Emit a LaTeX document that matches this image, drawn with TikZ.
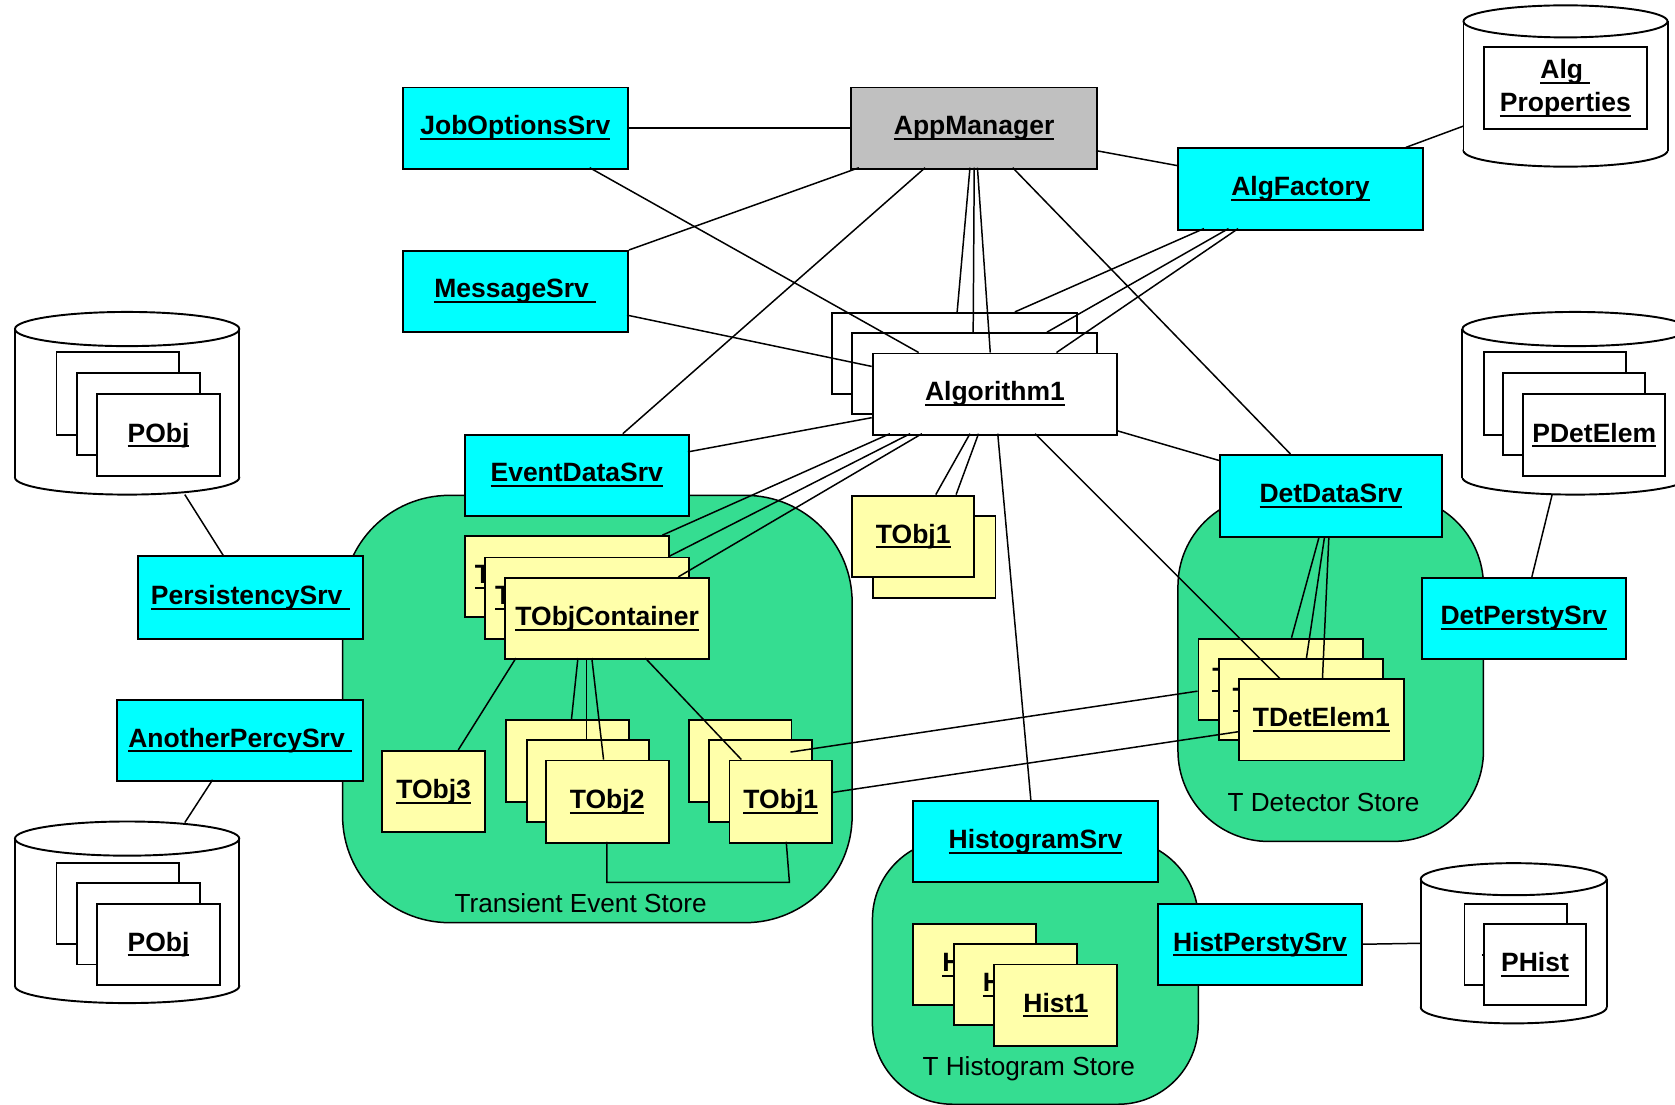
\documentclass[tikz,border=0pt]{standalone}
\usepackage{fontspec}
\setmainfont{Liberation Sans}
\usetikzlibrary{calc}
\definecolor{storegreen}{RGB}{53,221,145}
\definecolor{objyellow}{RGB}{255,255,170}
\definecolor{svccyan}{RGB}{0,255,255}
\definecolor{mgrgray}{RGB}{192,192,192}
\newcommand\myul[1]{\setbox0\hbox{#1}\rlap{\rule[-0.2em]{\wd0}{0.075em}}\box0}
\newcommand\mycyl[5]{%
  \filldraw[cylline] ({(#1+#3)/2},{#4-#5}) ellipse [x radius={(#3-#1)/2}, y radius={#5}];
  \fill[white] (#1,{#2+#5}) rectangle (#3,{#4-#5});
  \draw[cylline] (#1,{#2+#5}) -- (#1,{#4-#5});
  \draw[cylline] (#3,{#2+#5}) -- (#3,{#4-#5});
  \filldraw[cylline] ({(#1+#3)/2},{#2+#5}) ellipse [x radius={(#3-#1)/2}, y radius={#5}];
}
\tikzset{
  bx/.style={draw, line width=1.8pt, inner sep=0pt, anchor=north west,
    font=\fontsize{24.8}{26}\selectfont\bfseries, align=center},
  svc/.style={bx, fill=svccyan},
  mgr/.style={bx, fill=mgrgray},
  wbx/.style={bx, fill=white},
  ybx/.style={bx, fill=objyellow},
  store/.style={draw, line width=1.4pt, fill=storegreen, anchor=north west, inner sep=0pt},
  storelabel/.style={anchor=base, inner sep=0pt, font=\fontsize{24.5}{26}\selectfont},
  cylline/.style={line width=1.8pt, fill=white, draw=black},
  cylarea/.style={anchor=north west, inner sep=0pt},
  conn/.style={line width=1.4pt},
}
\begin{document}
\begin{tikzpicture}[x=1pt,y=-1pt]
\useasboundingbox (0,0) rectangle (1568,1034.4);
\clip (0,0) rectangle (1568,1034.4);

% stores
\node[store, rounded corners=100pt, minimum width=477pt, minimum height=400pt] (tes) at (320,463) {};
\node[store, rounded corners=85pt, minimum width=286pt, minimum height=324pt] (tds) at (1102,463) {};
\node[store, rounded corners=75pt, minimum width=305pt, minimum height=248pt] (ths) at (816,785) {};
\node[storelabel] (tesl) at (543.5,854) {Transient Event Store};
\node[storelabel] (tdsl) at (1239,760) {T Detector Store};
\node[storelabel] (thsl) at (963,1007) {T Histogram Store};

% cylinders
\mycyl{14}{292}{224}{463}{16}
\mycyl{14}{769}{224}{939}{16}
\mycyl{1369}{292}{1580}{463}{16}
\mycyl{1330}{808}{1504}{958}{15}
\mycyl{1370}{5}{1561}{156}{15}
\node[cylarea, minimum width=210pt, minimum height=171pt] (cyl1) at (14,292) {};
\node[cylarea, minimum width=210pt, minimum height=170pt] (cyl2) at (14,769) {};
\node[cylarea, minimum width=211pt, minimum height=171pt] (cyl3) at (1369,292) {};
\node[cylarea, minimum width=174pt, minimum height=150pt] (cyl4) at (1330,808) {};
\node[cylarea, minimum width=191pt, minimum height=151pt] (cyl5) at (1370,5) {};

% persistent objects
\node[wbx, minimum width=115pt, minimum height=77pt] (poa) at (52,329) {};
\node[wbx, minimum width=115pt, minimum height=77pt] (pob) at (71,348) {};
\node[wbx, minimum width=115pt, minimum height=77pt] (poc) at (90,368) {\myul{PObj}};
\node[wbx, minimum width=115pt, minimum height=76pt] (pla) at (52,807) {};
\node[wbx, minimum width=115pt, minimum height=76pt] (plb) at (71,826) {};
\node[wbx, minimum width=115pt, minimum height=76pt] (plc) at (90,845) {\myul{PObj}};
\node[wbx, minimum width=133pt, minimum height=77pt] (pda) at (1388,329) {};
\node[wbx, minimum width=133pt, minimum height=77pt] (pdb) at (1406,348) {};
\node[wbx, minimum width=133pt, minimum height=77pt] (pdc) at (1425,368) {\myul{PDetElem}};
\node[wbx, minimum width=96pt, minimum height=76pt] (pha) at (1370,845) {\myul{PHist}};
\node[wbx, minimum width=96pt, minimum height=76pt] (phb) at (1388,864) {\myul{PHist}};
\node[wbx, minimum width=153pt, minimum height=77pt, font=\fontsize{24.8}{31}\selectfont\bfseries] (apr) at (1388,43) {\myul{Alg\ }\\\myul{Properties}};

% services
\node[svc, minimum width=211pt, minimum height=76pt] (jos) at (376,81) {\myul{JobOptionsSrv}};
\node[svc, minimum width=211pt, minimum height=76pt] (msg) at (376,234) {\myul{MessageSrv\ }};
\node[mgr, minimum width=230pt, minimum height=76pt] (app) at (796,81) {\myul{AppManager}};
\node[svc, minimum width=229pt, minimum height=76pt] (af) at (1102,138) {\myul{AlgFactory}};
\node[svc, minimum width=210pt, minimum height=76pt] (eds) at (434,406) {\myul{EventDataSrv}};
\node[svc, minimum width=211pt, minimum height=77pt] (ps) at (128,520) {\myul{PersistencySrv\ }};
\node[svc, minimum width=230pt, minimum height=76pt] (aps) at (109,654) {\myul{AnotherPercySrv\ }};
\node[svc, minimum width=208pt, minimum height=77pt] (dds) at (1141,425) {\myul{DetDataSrv}};
\node[svc, minimum width=191pt, minimum height=76pt] (dps) at (1330,540) {\myul{DetPerstySrv}};
\node[svc, minimum width=229pt, minimum height=76pt] (hs) at (854,749) {\myul{HistogramSrv}};
\node[svc, minimum width=191pt, minimum height=76pt] (hps) at (1083,845) {\myul{HistPerstySrv}};

% algorithms
\node[wbx, minimum width=229pt, minimum height=76pt] (alga) at (778,292) {};
\node[wbx, minimum width=229pt, minimum height=76pt] (algb) at (797,311) {};
\node[wbx, minimum width=229pt, minimum height=76pt] (algc) at (816,330) {\myul{Algorithm1}};

% transient objects
\node[ybx, minimum width=115pt, minimum height=77pt] (tobb) at (816,482) {};
\node[ybx, minimum width=114pt, minimum height=76pt] (tob) at (797,463) {\myul{TObj1}};
\node[ybx, minimum width=191pt, minimum height=76pt] (tca) at (434,501) {\myul{TObjContainer}};
\node[ybx, minimum width=191pt, minimum height=76pt] (tcb) at (453,521) {\myul{TObjContainer}};
\node[ybx, minimum width=191pt, minimum height=76pt] (tcc) at (472,540) {\myul{TObjContainer}};
\node[ybx, minimum width=96pt, minimum height=76pt] (to3) at (357,702) {\myul{TObj3}};
\node[ybx, minimum width=115pt, minimum height=77pt] (t2a) at (473,673) {};
\node[ybx, minimum width=115pt, minimum height=77pt] (t2b) at (492,692) {};
\node[ybx, minimum width=115pt, minimum height=77pt] (t2c) at (510,711) {\myul{TObj2}};
\node[ybx, minimum width=96pt, minimum height=77pt] (t1a) at (644,673) {};
\node[ybx, minimum width=96pt, minimum height=77pt] (t1b) at (663,692) {};
\node[ybx, minimum width=96pt, minimum height=77pt] (t1c) at (682,711) {\myul{TObj1}};
\node[ybx, minimum width=154pt, minimum height=76pt] (tda) at (1121,597) {\myul{TDetElem1}};
\node[ybx, minimum width=154pt, minimum height=76pt] (tdb) at (1140,616) {\myul{TDetElem1}};
\node[ybx, minimum width=154pt, minimum height=76pt] (tdc) at (1159,635) {\myul{TDetElem1}};
\node[ybx, minimum width=115pt, minimum height=76pt] (ha) at (854,864) {\myul{Hist1}};
\node[ybx, minimum width=115pt, minimum height=76pt] (hb) at (892,883) {\myul{Hist1}};
\node[ybx, minimum width=115pt, minimum height=76pt] (hc) at (930,902) {\myul{Hist1}};

% connectors
\begin{scope}[conn]
\draw (jos.east) -- (app.west);
\draw ($(jos.north west)+(176,76)$) -- ($(algc.north west)+(44,0)$);
\draw ($(app.north west)+(8,76)$) -- (msg.north east);
\draw ($(app.north west)+(70,76)$) -- ($(eds.north west)+(149,0)$);
\draw ($(app.north west)+(112,76)$) -- ($(alga.north west)+(118,0)$);
\draw ($(app.north west)+(116,76)$) -- ($(algb.north west)+(114,0)$);
\draw ($(app.north west)+(119,76)$) -- ($(algc.north west)+(111,0)$);
\draw ($(app.north west)+(152,76)$) -- ($(dds.north west)+(67,0)$);
\draw ($(app.north west)+(230,60)$) -- ($(af.north west)+(0,17)$);
\draw ($(af.north west)+(25,76)$) -- ($(alga.north west)+(172,0)$);
\draw ($(af.north west)+(48,76)$) -- ($(algb.north west)+(183,0)$);
\draw ($(af.north west)+(57,76)$) -- ($(algc.north west)+(173,0)$);
\draw ($(af.north west)+(214,0)$) -- ($(cyl5.north west)+(0,113)$);
\draw ($(msg.north west)+(211,61)$) -- ($(algc.north west)+(0,13)$);
\draw ($(eds.north west)+(210,17)$) -- ($(algc.north west)+(0,61)$);
\draw ($(algc.north west)+(17,76)$) -- ($(tca.north west)+(186,0)$);
\draw ($(algc.north west)+(36,76)$) -- ($(tcb.north west)+(173,0)$);
\draw ($(algc.north west)+(47,76)$) -- ($(tcc.north west)+(163,0)$);
\draw ($(algc.north west)+(92,76)$) -- ($(tob.north west)+(79,0)$);
\draw ($(algc.north west)+(100,76)$) -- ($(tob.north west)+(98,0)$);
\draw ($(algc.north west)+(118,76)$) -- ($(hs.north west)+(111,0)$);
\draw ($(algc.north west)+(153,76)$) -- ($(tdc.north west)+(39,0)$);
\draw ($(algc.north west)+(229,73)$) -- ($(dds.north west)+(0,6)$);
\draw ($(dds.north west)+(94,77)$) -- ($(tda.north west)+(88,0)$);
\draw ($(dds.north west)+(99,77)$) -- ($(tdb.north west)+(83,0)$);
\draw ($(dds.north west)+(103,77)$) -- ($(tdc.north west)+(79,0)$);
\draw ($(dps.north west)+(104,0)$) -- ($(cyl3.north west)+(84,171)$);
\draw ($(ps.north west)+(81,0)$) -- ($(cyl1.north west)+(159,171)$);
\draw ($(aps.north west)+(90,76)$) -- ($(cyl2.north west)+(159,1)$);
\draw (hps.east) -- ($(cyl4.north west)+(0,75)$);
\draw ($(tcc.north west)+(11,76)$) -- ($(to3.north west)+(72,0)$);
\draw ($(tcc.north west)+(69,76)$) -- ($(t2a.north west)+(62,0)$);
\draw ($(tcc.north west)+(77,76)$) -- ($(t2b.north west)+(57,0)$);
\draw ($(tcc.north west)+(82,76)$) -- ($(t2c.north west)+(55,0)$);
\draw ($(tcc.north west)+(132,76)$) -- ($(t1c.north west)+(12,0)$);
\draw ($(t2c.north west)+(58,77)$) -- ++(0,38) -- ($(t1c.north west)+(57,115)$) -- ($(t1c.north west)+(54,77)$);
\draw ($(t1b.north west)+(77,12)$) -- ($(tda.north west)+(0,50)$);
\draw ($(t1c.north west)+(96,31)$) -- ($(tdc.north west)+(0,50)$);
\end{scope}
\end{tikzpicture}
\end{document}
